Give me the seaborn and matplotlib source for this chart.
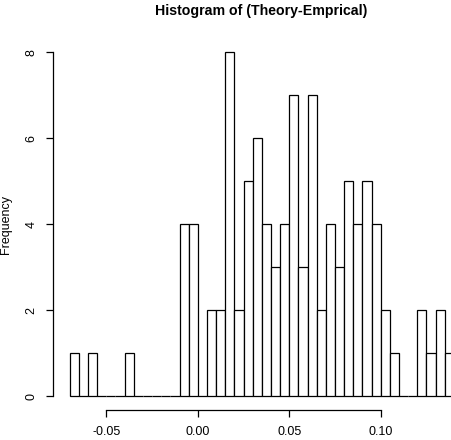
import numpy as np
import pandas as pd
import matplotlib
matplotlib.use("Agg")
import matplotlib.pyplot as plt
import seaborn as sns

# Bin layout (width 0.005, starting at -0.07)
bin_start = -0.07
bin_width = 0.005
counts = [1, 0, 1, 0, 0, 0, 1, 0, 0, 0, 0, 0, 4, 4, 0, 2, 2, 8, 2, 5, 6,
          4, 3, 4, 7, 3, 7, 2, 4, 3, 5, 4, 5, 4, 2, 1, 0, 0, 2, 1, 2, 1]
x_ticks = [-0.05, 0.00, 0.05, 0.10]
x_tick_labels = ["-0.05", "0.00", "0.05", "0.10"]
y_ticks = [0, 2, 4, 6, 8]
title = "Histogram of (Theory-Emprical)"
y_label = "Frequency"

edges = np.round(bin_start + bin_width * np.arange(len(counts) + 1), 6)
centers = (edges[:-1] + edges[1:]) / 2
df = pd.DataFrame({"value": centers, "count": counts})

sns.set_theme(style="white")
plt.rcParams["font.family"] = ["Liberation Sans", "DejaVu Sans"]

W, H = 452, 440
fig = plt.figure(figsize=(W / 100, H / 100), dpi=100)
left_px, right_px, top_px, bottom_px = 53.5, 452, 38.6, 410
ax = fig.add_axes([left_px / W, 1 - bottom_px / H,
                   (right_px - left_px) / W, (bottom_px - top_px) / H])

sns.histplot(data=df, x="value", weights="count", bins=list(edges), ax=ax,
             stat="count", color="white", edgecolor="black", linewidth=0.9,
             alpha=1.0)

px_per_unit = 1829.0
zero_px = 197.8
ax.set_xlim((left_px - zero_px) / px_per_unit, (right_px - zero_px) / px_per_unit)
ax.set_ylim(-0.32, 8.32)

for s in ["top", "right"]:
    ax.spines[s].set_visible(False)
ax.spines["left"].set_bounds(0, 8)
ax.spines["bottom"].set_bounds(-0.05, 0.10)
for s in ["left", "bottom"]:
    ax.spines[s].set_color("black")
    ax.spines[s].set_linewidth(0.9)

ax.set_xticks(x_ticks)
ax.set_xticklabels(x_tick_labels)
ax.set_yticks(y_ticks)
ax.set_yticklabels([str(v) for v in y_ticks], rotation=90, va="center")
ax.tick_params(axis="both", which="both", direction="out", length=5,
               width=0.9, color="black", labelsize=9, labelcolor="black",
               left=True, bottom=True)
ax.tick_params(axis="x", pad=6.5)
ax.tick_params(axis="y", pad=6.5)
ax.set_xlabel("")
ax.set_ylabel("")
ax.grid(False)

fig.text(261 / W, 1 - 10.5 / H, title, ha="center", va="center",
         fontsize=10.2, fontweight="bold", color="black")
fig.text(6.5 / W, 1 - 224 / H, y_label, ha="center", va="center",
         rotation=90, fontsize=9, color="black")

fig.savefig("out.png", dpi=100, facecolor="white")
